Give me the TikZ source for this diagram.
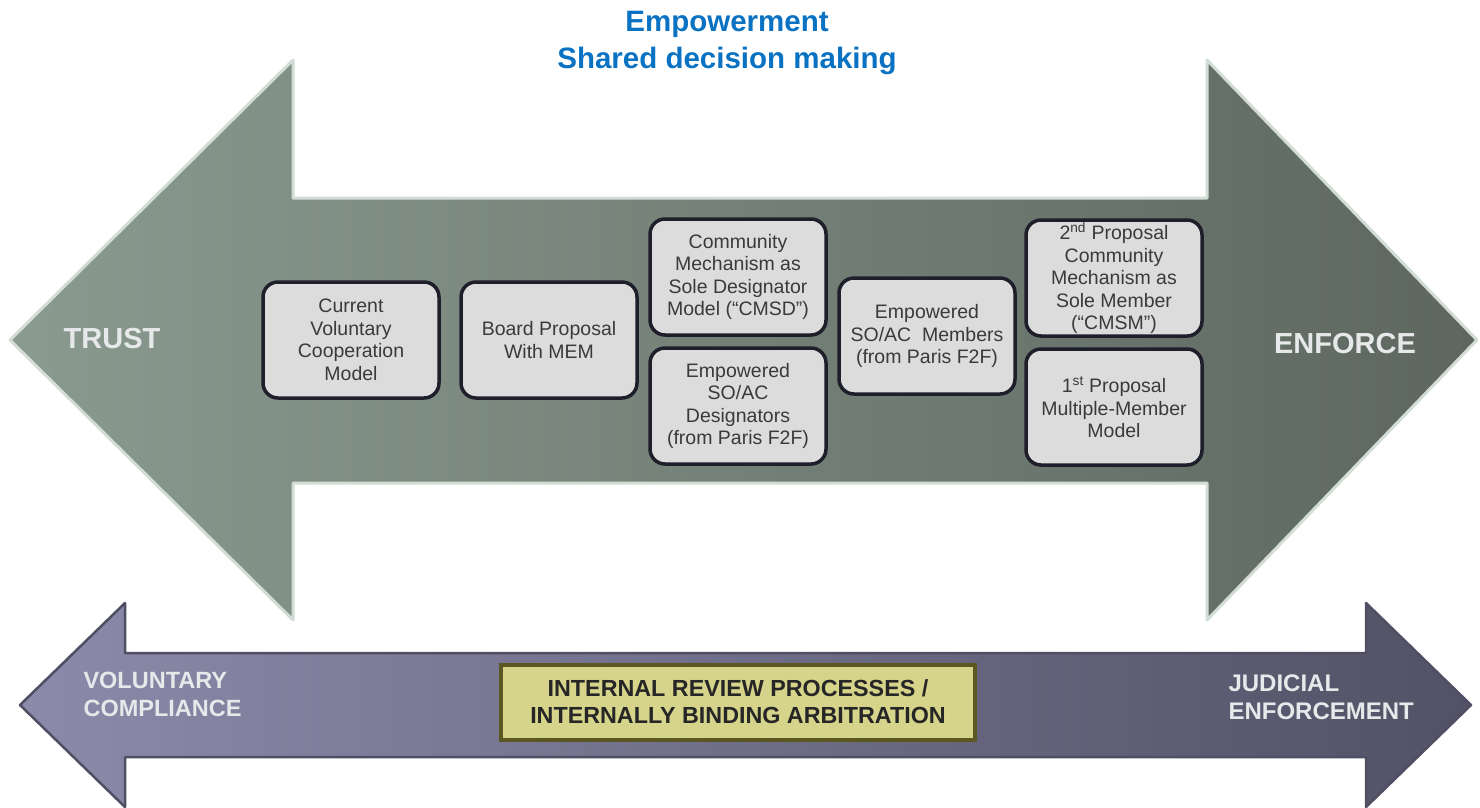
\documentclass[tikz,border=0pt]{standalone}
\usepackage{fontspec}
\setmainfont{Liberation Sans}
\usetikzlibrary{positioning}

\definecolor{titleblue}{HTML}{0A72C2}
\definecolor{trustleft}{HTML}{8A9A8F}
\definecolor{trustright}{HTML}{5D6760}
\definecolor{trustedge}{HTML}{D2DDD6}
\definecolor{boxfill}{HTML}{DCDCDC}
\definecolor{boxedge}{HTML}{1F1F2B}
\definecolor{boxtext}{HTML}{3A3A3A}
\definecolor{lowleft}{HTML}{8C8AAA}
\definecolor{lowright}{HTML}{525165}
\definecolor{lowedge}{HTML}{4F4E63}
\definecolor{reviewfill}{HTML}{D6D48A}
\definecolor{reviewedge}{HTML}{5A5820}
\definecolor{labelwhite}{HTML}{E6E8EA}

\begin{document}
\begin{tikzpicture}[x=1pt, y=-1pt,
    modelbox/.style={draw=boxedge, line width=3.5pt, fill=boxfill, rounded corners=15pt,
        minimum width=176pt, minimum height=116pt, inner sep=1pt, align=center, text=boxtext,
        font=\fontsize{19.5}{22.5}\selectfont},
    arrowlabel/.style={text=labelwhite, font=\bfseries\fontsize{29}{34}\selectfont},
    lowlabel/.style={text=labelwhite, align=left, anchor=west, font=\bfseries\fontsize{23.5}{28}\selectfont}]

    \useasboundingbox (0,0) rectangle (1480,807);

    % Title
    \node[text=titleblue, align=center, font=\bfseries\fontsize{29.5}{37}\selectfont] (title) at (727,43)
        {Empowerment\\Shared decision making};

    % Big double arrow
    \path[draw=trustedge, line width=3pt, line join=round, left color=trustleft, right color=trustright]
        (10,340) -- (293,60) -- (293,198) -- (1207,198) -- (1207,60) -- (1477,340)
        -- (1207,620) -- (1207,483) -- (293,483) -- (293,620) -- cycle;
    \node[arrowlabel] (trust) at (112,339) {TRUST};
    \node[arrowlabel] (enforce) at (1345,344) {ENFORCE};

    % Models, weakest to strongest
    \foreach \n/\x/\y/\txt in {
        current/351/340/{Current\\Voluntary\\Cooperation\\Model},
        board/549/340/{Board Proposal\\With MEM},
        cmsd/738/277/{Community\\Mechanism as\\Sole Designator\\Model (“CMSD”)},
        designators/738/406/{Empowered\\SO/AC\\Designators\\(from Paris F2F)},
        members/927/336/{Empowered\\SO/AC\ \ Members\\(from Paris F2F)},
        cmsm/1114/278/{2\textsuperscript{nd} Proposal\\Community\\Mechanism as\\Sole Member\\(“CMSM”)},
        multiple/1114/407/{1\textsuperscript{st} Proposal\\Multiple-Member\\Model}} {
        \node[modelbox] (\n) at (\x,\y) {\txt};
    }

    % Lower double arrow
    \path[draw=lowedge, line width=2.5pt, line join=round, left color=lowleft, right color=lowright]
        (20,705) -- (125,603) -- (125,653) -- (1366,653) -- (1366,603) -- (1471,705)
        -- (1366,807) -- (1366,757) -- (125,757) -- (125,807) -- cycle;
    \node[lowlabel] (voluntary) at (80,694) {VOLUNTARY\\COMPLIANCE};
    \node[lowlabel, font=\bfseries\fontsize{24}{28}\selectfont] (judicial) at (1225,697) {JUDICIAL\\ENFORCEMENT};

    % Review box in the middle
    \node[draw=reviewedge, line width=4pt, fill=reviewfill, minimum width=474pt, minimum height=75pt,
        align=center, text=black!85, font=\bfseries\fontsize{23.3}{27}\selectfont] (review) at (738,702)
        {INTERNAL REVIEW PROCESSES /\\INTERNALLY BINDING ARBITRATION};

\end{tikzpicture}
\end{document}
